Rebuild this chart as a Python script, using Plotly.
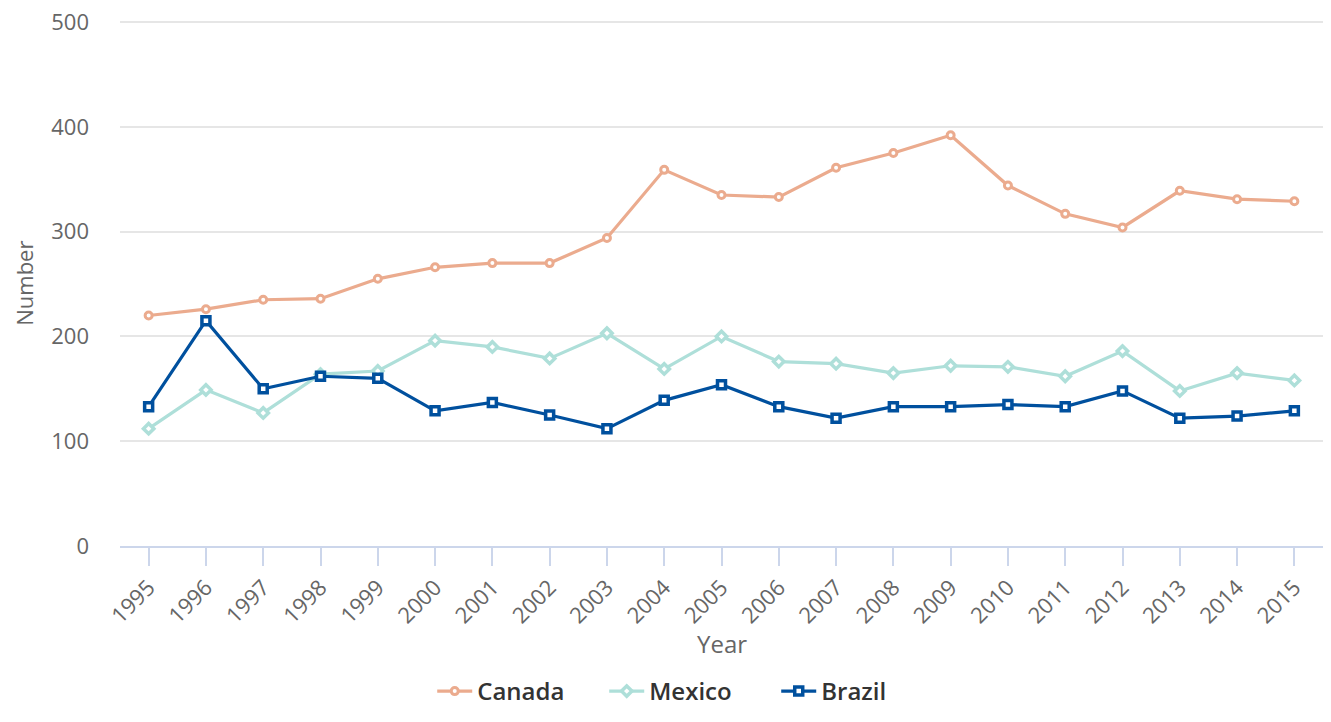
import plotly.graph_objects as go

years = [str(y) for y in range(1995, 2016)]
canada = [220, 226, 235, 236, 255, 266, 270, 270, 294, 359, 335, 333, 361, 375, 392, 344, 317, 304, 339, 331, 329]
mexico = [112, 149, 127, 164, 167, 196, 190, 179, 203, 169, 200, 176, 174, 165, 172, 171, 162, 186, 148, 165, 158]
brazil = [133, 215, 150, 162, 160, 129, 137, 125, 112, 139, 154, 133, 122, 133, 133, 135, 133, 148, 122, 124, 129]

series = [
    ("Canada", canada, "#EBAB8E", "circle", 7, 3),
    ("Mexico", mexico, "#AEDFD9", "diamond", 8, 3.5),
    ("Brazil", brazil, "#00509E", "square", 8, 3.5),
]

fig = go.Figure()
for name, vals, color, sym, msize, mlw in series:
    fig.add_trace(go.Scatter(
        x=years, y=vals, name=name, mode="lines+markers",
        line=dict(color=color, width=3.2),
        marker=dict(symbol=sym, size=msize, color="white",
                    line=dict(color=color, width=mlw)),
    ))

fig.update_layout(
    width=1315, height=706,
    margin=dict(l=112, r=0, t=12, b=168),
    paper_bgcolor="white", plot_bgcolor="white",
    font=dict(family="Open Sans", color="#666666"),
    showlegend=True,
    legend=dict(orientation="h", x=0.474, xanchor="center",
                yref="container", y=0, yanchor="bottom",
                font=dict(size=24, color="#333333", weight=600), itemwidth=35,
                entrywidth=122, entrywidthmode="pixels",
                tracegroupgap=0),
    xaxis=dict(type="category", range=[-0.5, 20.5], showgrid=False, automargin=False,
               showline=True, linecolor="#ccd6eb", linewidth=2,
               ticks="outside", ticklen=18, tickcolor="#ccd6eb", tickwidth=2,
               tickangle=-45, tickfont=dict(size=22, color="#666666")),
    yaxis=dict(range=[0, 502], tickvals=[0, 100, 200, 300, 400, 500], automargin=False,
               showgrid=True, gridcolor="#e6e6e6", gridwidth=2,
               zeroline=False, showline=False, ticks="",
               ticklabeloverflow="allow",
               tickfont=dict(size=22, color="#666666"), ticklabelstandoff=30),
    annotations=[
        dict(text="Year", xref="paper", yref="paper", x=0.5, y=-0.186, xanchor="center",
             yanchor="middle", showarrow=False, font=dict(size=24, color="#666666")),
        dict(text="Number", xref="paper", yref="paper", x=-0.080, y=0.5, xanchor="center",
             yanchor="middle", textangle=-90, showarrow=False, font=dict(size=22, color="#666666")),
    ],
)

fig.write_html("out.html")
